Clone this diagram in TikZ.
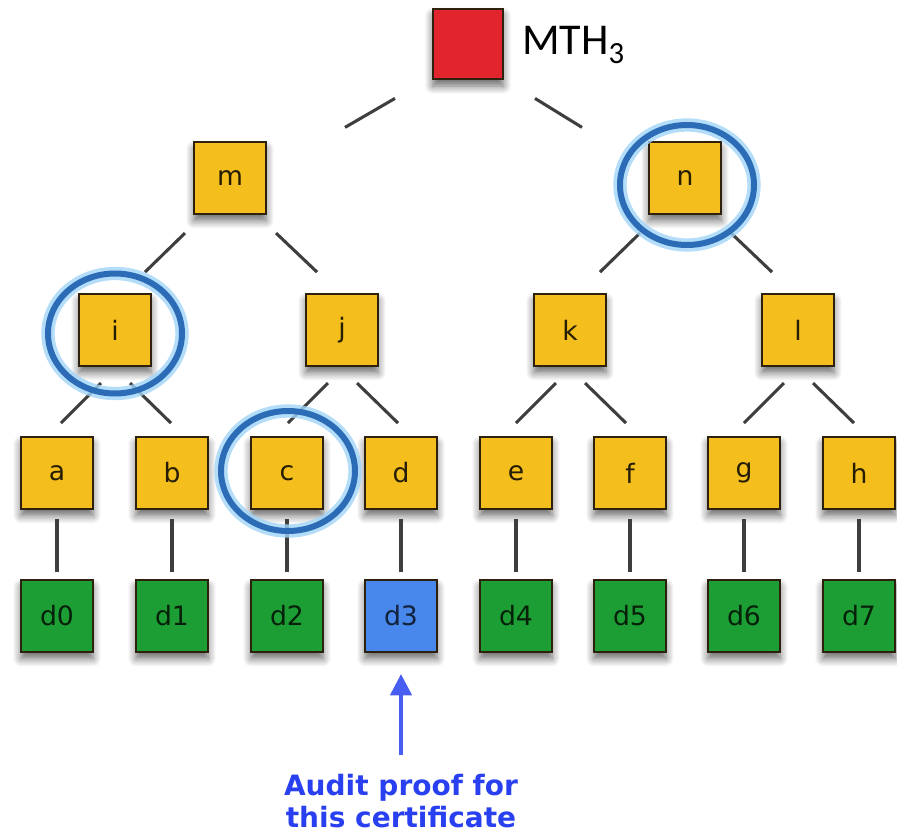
\documentclass[tikz,border=0pt]{standalone}
\usepackage{fontspec}
\newfontfamily\carl{Carlito}
\newfontfamily\dvs{DejaVu Sans}
\usetikzlibrary{shadows.blur,arrows.meta}
\definecolor{ybox}{RGB}{244,190,28}
\definecolor{gbox}{RGB}{28,158,52}
\definecolor{bbox}{RGB}{72,136,236}
\definecolor{rbox}{RGB}{226,36,46}
\definecolor{boxline}{RGB}{45,32,12}
\definecolor{edgecol}{RGB}{62,62,62}
\definecolor{ringcol}{RGB}{44,108,182}
\definecolor{glowcol}{RGB}{160,212,248}
\definecolor{txtblue}{RGB}{40,64,240}
\begin{document}
\begin{tikzpicture}[x=0.75pt,y=-0.75pt,
  box/.style={draw=boxline, line width=1.6pt, minimum size=54pt, inner sep=0pt,
    font=\dvs\fontsize{20}{24}\selectfont,
    blur shadow={shadow xshift=0pt, shadow yshift=-5pt, shadow blur steps=8, shadow blur radius=6pt, shadow opacity=60}},
  ybox/.style={box, fill=ybox, text=black!85!ybox},
  gbox/.style={box, fill=gbox, text=black!80!gbox},
  edge/.style={draw=edgecol, line width=2.3pt},
  ring/.style={draw=ringcol, line width=4.5pt},
  glow/.style={draw=glowcol, line width=10pt, opacity=0.8},
  note/.style={font=\dvs\bfseries\fontsize{21}{25}\selectfont, text=txtblue, anchor=base, inner sep=0pt}
]
\useasboundingbox (0,0) rectangle (897,835);

% nodes
\node[box, fill=rbox, minimum size=53pt] (root) at (468,44) {};
\node[anchor=base west, inner sep=0pt, font=\carl\fontsize{33}{37}\selectfont] (mth) at (522,55) {MTH\textsubscript{3}};

\node[ybox] (m) at (230,178) {m};
\node[ybox] (n) at (685,178) {n};

\node[ybox] (i) at (115,330) {i};
\node[ybox] (j) at (342,330) {j};
\node[ybox] (k) at (570,330) {k};
\node[ybox] (l) at (798,330) {l};

\node[ybox] (a) at (57,473) {a};
\node[ybox] (b) at (172,473) {b};
\node[ybox] (c) at (287,473) {c};
\node[ybox] (d) at (401,473) {d};
\node[ybox] (e) at (516,473) {e};
\node[ybox] (f) at (630,473) {f};
\node[ybox] (g) at (744,473) {g};
\node[ybox] (h) at (859,473) {h};

\node[gbox] (d0) at (57,616) {d0};
\node[gbox] (d1) at (172,616) {d1};
\node[gbox] (d2) at (287,616) {d2};
\node[box, fill=bbox, text=black!75!bbox] (d3) at (401,616) {d3};
\node[gbox] (d4) at (516,616) {d4};
\node[gbox] (d5) at (630,616) {d5};
\node[gbox] (d6) at (744,616) {d6};
\node[gbox] (d7) at (859,616) {d7};

% root stubs
\draw[edge] ([shift={(-73,18)}]root.south) -- ([shift={(-123,47)}]root.south);
\draw[edge] ([shift={(67,18)}]root.south) -- ([shift={(114,47)}]root.south);

% level 2 -> 3
\foreach \p/\L/\R in {m/i/j, n/k/l}{
  \draw[edge] ([shift={(-45,18)}]\p.south) -- ([shift={(-85,57)}]\p.south);
  \draw[edge] ([shift={(46,18)}]\p.south) -- ([shift={(87,57)}]\p.south);
}
% level 3 -> 4
\foreach \p/\L/\R in {i/a/b, j/c/d, k/e/f, l/g/h}{
  \draw[edge] ([shift={(-14,16)}]\p.south) -- ([shift={(-54,56)}]\p.south);
  \draw[edge] ([shift={(15,16)}]\p.south) -- ([shift={(56,56)}]\p.south);
}
% level 4 -> 5
\foreach \p/\q in {a/d0, b/d1, c/d2, d/d3, e/d4, f/d5, g/d6, h/d7}{
  \draw[edge] ([yshift=-6.75pt]\p.south) -- ([yshift=5.25pt]\q.north);
}

% rings
\foreach \cx/\cy in {115/333.5, 288/471, 687/185}{
  \draw[glow] (\cx,\cy) ellipse [x radius=67, y radius=60];
  \draw[ring] (\cx,\cy) ellipse [x radius=67, y radius=60];
}

% arrow and note
\coordinate (tail) at (401,755);
\draw[-{Triangle[length=16pt,width=16pt]}, line width=2.8pt, draw=txtblue!85!white, fill=txtblue!85!white] (tail) -- ([yshift=-15.75pt]d3.south);
\node[note] (note1) at (401,795) {Audit proof for};
\node[note] (note2) at (401,827) {this certificate};
\end{tikzpicture}
\end{document}
